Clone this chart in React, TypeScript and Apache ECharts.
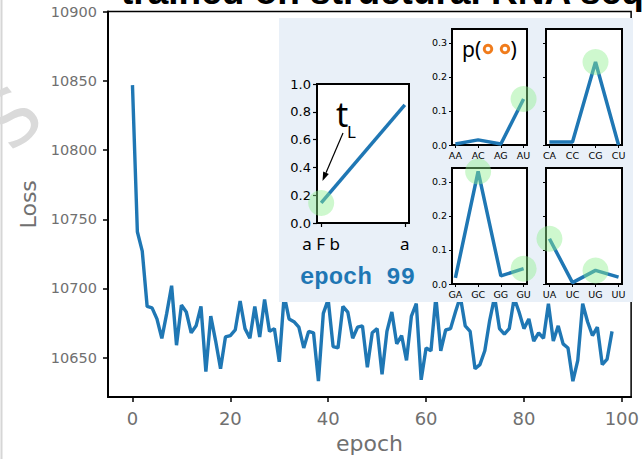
import React, { useEffect, useRef } from "react";
import * as echarts from "echarts";

// ---- data ----
const lossValues = [
  10847, 10741, 10727, 10687, 10686, 10678, 10664, 10682, 10702, 10659,
  10688, 10683, 10668, 10673, 10687, 10640, 10680, 10662, 10642, 10665,
  10666, 10670, 10691, 10671, 10664, 10687, 10665, 10692, 10669, 10671,
  10647, 10695, 10678, 10676, 10672, 10657, 10669, 10668, 10633, 10682,
  10692, 10658, 10657, 10687, 10683, 10664, 10672, 10673, 10643, 10668,
  10671, 10638, 10669, 10683, 10660, 10666, 10648, 10680, 10689, 10634,
  10657, 10655, 10694, 10655, 10670, 10671, 10683, 10694, 10673, 10669,
  10642, 10645, 10655, 10677, 10694, 10671, 10667, 10671, 10693, 10683,
  10671, 10678, 10662, 10668, 10664, 10689, 10662, 10673, 10660, 10657,
  10633, 10648, 10689, 10676, 10666, 10672, 10645, 10649, 10669,
];
const xTicks = [0, 20, 40, 60, 80, 100];
const yTicks = [10650, 10700, 10750, 10800, 10850, 10900];

const tlX = [0, 1];
const tlY = [0.144, 0.85];
const tlXLabels = ["a F b", "a"];
const tlYTicks = [0, 0.2, 0.4, 0.6, 0.8, 1.0];

const pairCats = [
  ["AA", "AC", "AG", "AU"],
  ["CA", "CC", "CG", "CU"],
  ["GA", "GC", "GG", "GU"],
  ["UA", "UC", "UG", "UU"],
];
const pairVals = [
  [0.003, 0.015, 0.003, 0.135],
  [0.009, 0.009, 0.244, 0.0],
  [0.018, 0.331, 0.024, 0.045],
  [0.133, 0.004, 0.04, 0.02],
];
const pairHighlights = [[3], [2], [1, 3], [0, 2]];
const pairYTicks = [0, 0.1, 0.2, 0.3];

const BLUE = "#1f77b4";
const HL = "rgba(144,238,144,0.55)";
const GRAY = "#707070";
const FONT = "DejaVu Sans";

export default function App() {
  const ref = useRef<HTMLDivElement>(null);
  useEffect(() => {
    if (!ref.current) return;
    const chart = echarts.init(ref.current, undefined, { renderer: "svg" });

    const smallGrids = [
      { left: 452, top: 29, width: 75, height: 116 },
      { left: 546, top: 29, width: 76, height: 116 },
      { left: 452, top: 168, width: 75, height: 116 },
      { left: 546, top: 168, width: 76, height: 116 },
    ];

    const grids: any[] = [
      { left: 108, top: 11.5, right: 5, bottom: 50, show: true, borderColor: "#000", borderWidth: 1.5, z: 0 },
      { left: 317, top: 84, width: 92, height: 139, show: true, borderColor: "#000", borderWidth: 2, backgroundColor: "#fff", z: 4 },
      ...smallGrids.map((g) => ({ ...g, show: true, borderColor: "#000", borderWidth: 2, backgroundColor: "#fff", z: 4 })),
    ];

    const xAxes: any[] = [
      {
        type: "value", gridIndex: 0, min: -5, max: 101.9,
        axisLine: { show: true, onZero: false, lineStyle: { color: "#000", width: 2 } },
        axisTick: { show: true, customValues: xTicks, length: 5, lineStyle: { color: "#000", width: 1.5 } },
        axisLabel: { customValues: xTicks, color: GRAY, fontSize: 18, fontFamily: FONT, margin: 12, formatter: (v: number) => String(v) },
        splitLine: { show: false },
        name: "epoch", nameLocation: "middle", nameGap: 30,
        nameTextStyle: { fontSize: 22, color: GRAY, fontFamily: FONT },
      },
      {
        type: "value", gridIndex: 1, min: -0.05, max: 1.05, z: 5,
        axisLine: { show: true, onZero: false, lineStyle: { color: "#000", width: 2 } },
        axisTick: { show: true, customValues: tlX, length: 4, lineStyle: { color: "#000", width: 1.2 } },
        axisLabel: {
          customValues: tlX, color: "#000", fontSize: 17, fontFamily: "Noto Sans", margin: 12,
          formatter: (v: number) => tlXLabels[Math.round(v)],
        },
        splitLine: { show: false },
      },
      ...pairCats.map((cats, i) => ({
        type: "value", gridIndex: i + 2, min: -0.15, max: 3.15, z: 5,
        axisLine: { show: true, onZero: false, lineStyle: { color: "#000", width: 2 } },
        axisTick: { show: true, customValues: [0, 1, 2, 3], length: 3, lineStyle: { color: "#000", width: 1 } },
        axisLabel: {
          customValues: [0, 1, 2, 3], color: "#000", fontSize: 9.5, fontFamily: FONT, margin: 5,
          formatter: (v: number) => cats[Math.round(v)],
        },
        splitLine: { show: false },
      })),
    ];

    const yAxes: any[] = [
      {
        type: "value", gridIndex: 0, min: 10621.5, max: 10900.2,
        axisLine: { show: true, onZero: false, lineStyle: { color: "#000", width: 2 } },
        axisTick: { show: true, customValues: yTicks, length: 5, lineStyle: { color: "#000", width: 1.5 } },
        axisLabel: { customValues: yTicks, color: GRAY, fontSize: 14.5, fontFamily: FONT, margin: 11, formatter: (v: number) => String(Math.round(v)) },
        splitLine: { show: false },
        name: "Loss", nameLocation: "middle", nameGap: 54,
        nameTextStyle: { fontSize: 22, color: GRAY, fontFamily: FONT },
      },
      {
        type: "value", gridIndex: 1, min: 0, max: 1, z: 5,
        axisLine: { show: true, onZero: false, lineStyle: { color: "#000", width: 2 } },
        axisTick: { show: true, customValues: tlYTicks, length: 4, lineStyle: { color: "#000", width: 1.2 } },
        axisLabel: {
          customValues: tlYTicks, color: "#000", fontSize: 13, fontFamily: FONT, margin: 6,
          formatter: (v: number) => v.toFixed(1),
        },
        splitLine: { show: false },
      },
      ...pairCats.map((_, i) => ({
        type: "value", gridIndex: i + 2, min: 0, max: 0.341, z: 5,
        axisLine: { show: true, onZero: false, lineStyle: { color: "#000", width: 2 } },
        axisTick: { show: true, customValues: pairYTicks, length: 3, lineStyle: { color: "#000", width: 1 } },
        axisLabel: {
          show: i % 2 === 0,
          customValues: pairYTicks, color: "#000", fontSize: 9.5, fontFamily: FONT, margin: 5,
          formatter: (v: number) => v.toFixed(1),
        },
        splitLine: { show: false },
      })),
    ];

    const series: any[] = [
      {
        type: "line", xAxisIndex: 0, yAxisIndex: 0, z: 2,
        data: lossValues.map((v, i) => [i, v]),
        showSymbol: false, lineStyle: { color: BLUE, width: 3.4 },
      },
      {
        type: "line", xAxisIndex: 1, yAxisIndex: 1, z: 6,
        data: tlX.map((x, i) => [x, tlY[i]]),
        showSymbol: false, lineStyle: { color: BLUE, width: 3.5 },
      },
      {
        type: "scatter", xAxisIndex: 1, yAxisIndex: 1, z: 7, clip: false,
        data: [[tlX[0], tlY[0]]], symbolSize: 26, itemStyle: { color: HL },
      },
    ];
    pairVals.forEach((vals, i) => {
      series.push({
        type: "line", xAxisIndex: i + 2, yAxisIndex: i + 2, z: 6,
        data: vals.map((v, j) => [j, v]),
        showSymbol: false, lineStyle: { color: BLUE, width: 3.5 },
      });
      series.push({
        type: "scatter", xAxisIndex: i + 2, yAxisIndex: i + 2, z: 7, clip: false,
        data: pairHighlights[i].map((j) => [j, vals[j]]), symbolSize: 26, itemStyle: { color: HL },
      });
    });

    const graphic: any[] = [
      { type: "line", shape: { x1: 1.5, y1: 0, x2: 1.5, y2: 459 }, style: { stroke: "#d6d6d6", lineWidth: 2 }, z: 1 },
      {
        type: "text", x: 12, y: 118, rotation: 0.7, z: 1,
        style: { text: "S", fill: "#dadada", fontSize: 76, fontFamily: FONT, align: "center", verticalAlign: "middle" },
      },
      {
        type: "text", x: 121, y: 10, z: 10,
        style: { text: "trained on structural RNA sequences", fill: "#000", fontSize: 37, fontWeight: "bold", fontFamily: "Liberation Sans", align: "left", verticalAlign: "bottom" },
      },
      { type: "rect", shape: { x: 279, y: 18, width: 354, height: 284 }, style: { fill: "#e9f0f8" }, z: 3 },
      {
        type: "text", x: 336, y: 131, z: 10,
        style: { text: "t", fill: "#000", fontSize: 34, fontFamily: "Noto Sans", align: "left", verticalAlign: "bottom" },
      },
      {
        type: "text", x: 347, y: 140, z: 10,
        style: { text: "L", fill: "#000", fontSize: 17, fontFamily: "Noto Sans", align: "left", verticalAlign: "bottom" },
      },
      { type: "line", shape: { x1: 343, y1: 133, x2: 326, y2: 172.7 }, style: { stroke: "#000", lineWidth: 1.2 }, z: 10 },
      {
        type: "polygon", z: 10,
        shape: { points: [[322.5, 181], [328.8, 173.9], [323.2, 171.5]] },
        style: { fill: "#000" },
      },
      {
        type: "text", x: 357.5, y: 277, z: 10,
        style: { text: "epoch 99", fill: BLUE, fontSize: 24, fontWeight: "bold", fontFamily: "Liberation Mono", align: "center", verticalAlign: "middle" },
      },
      {
        type: "text", x: 462, y: 49, z: 10,
        style: { text: "p(", fill: "#000", fontSize: 21, fontFamily: "Noto Sans", align: "left", verticalAlign: "middle" },
      },
      { type: "ring", shape: { cx: 488, cy: 49, r: 5.2, r0: 2.3 }, style: { fill: "#f07c1c" }, z: 10 },
      { type: "ring", shape: { cx: 505, cy: 49, r: 5.2, r0: 2.3 }, style: { fill: "#f07c1c" }, z: 10 },
      {
        type: "text", x: 510.5, y: 49, z: 10,
        style: { text: ")", fill: "#000", fontSize: 21, fontFamily: "Noto Sans", align: "left", verticalAlign: "middle" },
      },
    ];

    chart.setOption({
      animation: false,
      backgroundColor: "#fff",
      grid: grids,
      xAxis: xAxes,
      yAxis: yAxes,
      series,
      graphic,
    });
    return () => chart.dispose();
  }, []);
  return <div ref={ref} style={{ position: "fixed", left: 0, top: 0, width: 642, height: 459 }} />;
}
